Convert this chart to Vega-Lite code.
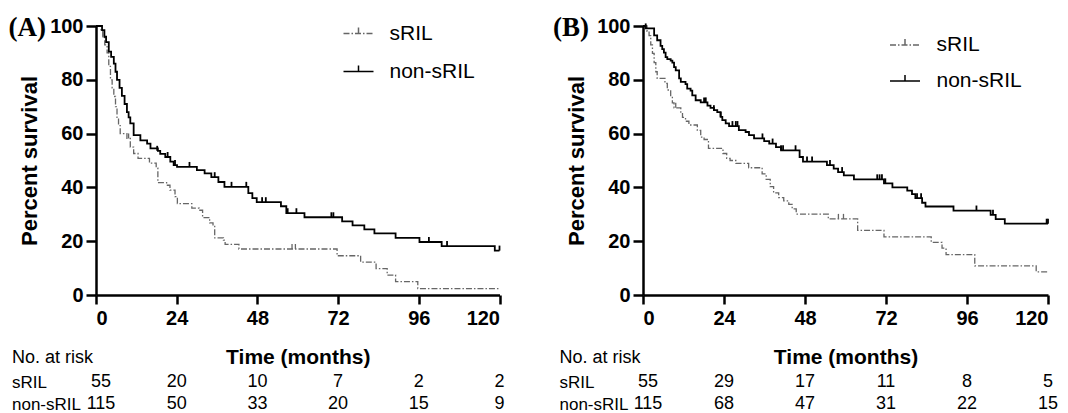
{
"$schema": "https://vega.github.io/schema/vega-lite/v6.json",
"padding": {"left": 8, "top": 13, "right": 0, "bottom": 0},
"datasets": {
"km": [
{"p":"A","g":"non-sRIL","t":0,"s":100},{"p":"A","g":"non-sRIL","t":1.8,"s":98.5},{"p":"A","g":"non-sRIL","t":2.5,"s":96},{"p":"A","g":"non-sRIL","t":3,"s":94},{"p":"A","g":"non-sRIL","t":3.8,"s":90.5},{"p":"A","g":"non-sRIL","t":4.5,"s":88.5},{"p":"A","g":"non-sRIL","t":5.3,"s":86},{"p":"A","g":"non-sRIL","t":5.8,"s":83},{"p":"A","g":"non-sRIL","t":6.25,"s":80},{"p":"A","g":"non-sRIL","t":7,"s":77},{"p":"A","g":"non-sRIL","t":7.7,"s":74},{"p":"A","g":"non-sRIL","t":8.5,"s":71},{"p":"A","g":"non-sRIL","t":9.2,"s":68},{"p":"A","g":"non-sRIL","t":9.7,"s":66},{"p":"A","g":"non-sRIL","t":10.2,"s":63.8},{"p":"A","g":"non-sRIL","t":11.2,"s":59.4},{"p":"A","g":"non-sRIL","t":13.2,"s":57.5},{"p":"A","g":"non-sRIL","t":15.2,"s":56.3},{"p":"A","g":"non-sRIL","t":16.2,"s":54.5},{"p":"A","g":"non-sRIL","t":18.4,"s":53.6},{"p":"A","g":"non-sRIL","t":19.1,"s":52.5},{"p":"A","g":"non-sRIL","t":20.6,"s":51.3},{"p":"A","g":"non-sRIL","t":22.1,"s":49.6},{"p":"A","g":"non-sRIL","t":23.1,"s":48.3},{"p":"A","g":"non-sRIL","t":24.1,"s":47.6},{"p":"A","g":"non-sRIL","t":30,"s":46.4},{"p":"A","g":"non-sRIL","t":32.3,"s":45.2},{"p":"A","g":"non-sRIL","t":34.3,"s":43.8},{"p":"A","g":"non-sRIL","t":36.4,"s":42},{"p":"A","g":"non-sRIL","t":38.2,"s":40.2},{"p":"A","g":"non-sRIL","t":45.3,"s":37.9},{"p":"A","g":"non-sRIL","t":46.5,"s":36},{"p":"A","g":"non-sRIL","t":47.8,"s":34.5},{"p":"A","g":"non-sRIL","t":55,"s":33},{"p":"A","g":"non-sRIL","t":56.6,"s":30.4},{"p":"A","g":"non-sRIL","t":62,"s":28.9},{"p":"A","g":"non-sRIL","t":73.2,"s":27.4},{"p":"A","g":"non-sRIL","t":76.3,"s":25.9},{"p":"A","g":"non-sRIL","t":79.8,"s":24.4},{"p":"A","g":"non-sRIL","t":82.8,"s":22.9},{"p":"A","g":"non-sRIL","t":89.1,"s":21.2},{"p":"A","g":"non-sRIL","t":96.2,"s":19.7},{"p":"A","g":"non-sRIL","t":102.8,"s":18.2},{"p":"A","g":"non-sRIL","t":118.6,"s":16.5},{"p":"A","g":"non-sRIL","t":120,"s":16.5},
{"p":"A","g":"sRIL","t":0,"s":100},{"p":"A","g":"sRIL","t":1.5,"s":98},{"p":"A","g":"sRIL","t":2,"s":96},{"p":"A","g":"sRIL","t":2.6,"s":93},{"p":"A","g":"sRIL","t":3.3,"s":90},{"p":"A","g":"sRIL","t":3.8,"s":85},{"p":"A","g":"sRIL","t":4.3,"s":80},{"p":"A","g":"sRIL","t":4.8,"s":77},{"p":"A","g":"sRIL","t":5.3,"s":73.8},{"p":"A","g":"sRIL","t":5.8,"s":70},{"p":"A","g":"sRIL","t":6.25,"s":66},{"p":"A","g":"sRIL","t":6.7,"s":63},{"p":"A","g":"sRIL","t":7.2,"s":60},{"p":"A","g":"sRIL","t":9.2,"s":58.2},{"p":"A","g":"sRIL","t":10.2,"s":55},{"p":"A","g":"sRIL","t":11.2,"s":52.6},{"p":"A","g":"sRIL","t":12.5,"s":50.8},{"p":"A","g":"sRIL","t":15.9,"s":49},{"p":"A","g":"sRIL","t":17.9,"s":47.2},{"p":"A","g":"sRIL","t":18.4,"s":41.8},{"p":"A","g":"sRIL","t":21,"s":40.8},{"p":"A","g":"sRIL","t":22,"s":39},{"p":"A","g":"sRIL","t":23.5,"s":36.6},{"p":"A","g":"sRIL","t":24.2,"s":34},{"p":"A","g":"sRIL","t":28.5,"s":32.3},{"p":"A","g":"sRIL","t":30.7,"s":31.5},{"p":"A","g":"sRIL","t":31.7,"s":28.8},{"p":"A","g":"sRIL","t":33.8,"s":26.8},{"p":"A","g":"sRIL","t":34.8,"s":25.5},{"p":"A","g":"sRIL","t":35.3,"s":21.2},{"p":"A","g":"sRIL","t":37.9,"s":20.4},{"p":"A","g":"sRIL","t":38.4,"s":18.8},{"p":"A","g":"sRIL","t":42.5,"s":17.1},{"p":"A","g":"sRIL","t":71.7,"s":14.6},{"p":"A","g":"sRIL","t":78.7,"s":12.2},{"p":"A","g":"sRIL","t":83.3,"s":9.8},{"p":"A","g":"sRIL","t":86.6,"s":7.4},{"p":"A","g":"sRIL","t":89.1,"s":5},{"p":"A","g":"sRIL","t":95.7,"s":2.4},{"p":"A","g":"sRIL","t":120,"s":2.4},
{"p":"B","g":"non-sRIL","t":0,"s":100},{"p":"B","g":"non-sRIL","t":0.8,"s":99.1},{"p":"B","g":"non-sRIL","t":3.3,"s":96.5},{"p":"B","g":"non-sRIL","t":4.2,"s":94.7},{"p":"B","g":"non-sRIL","t":5.2,"s":92.6},{"p":"B","g":"non-sRIL","t":5.7,"s":91.4},{"p":"B","g":"non-sRIL","t":6.2,"s":90.1},{"p":"B","g":"non-sRIL","t":6.7,"s":88.4},{"p":"B","g":"non-sRIL","t":7.2,"s":87.7},{"p":"B","g":"non-sRIL","t":8.2,"s":87.1},{"p":"B","g":"non-sRIL","t":8.7,"s":86.4},{"p":"B","g":"non-sRIL","t":9.2,"s":84.7},{"p":"B","g":"non-sRIL","t":9.7,"s":83.5},{"p":"B","g":"non-sRIL","t":10.7,"s":80.5},{"p":"B","g":"non-sRIL","t":11.2,"s":79.2},{"p":"B","g":"non-sRIL","t":12.6,"s":78.4},{"p":"B","g":"non-sRIL","t":13.1,"s":76.7},{"p":"B","g":"non-sRIL","t":14.1,"s":76},{"p":"B","g":"non-sRIL","t":14.6,"s":74.2},{"p":"B","g":"non-sRIL","t":15.6,"s":72.4},{"p":"B","g":"non-sRIL","t":17.1,"s":71.6},{"p":"B","g":"non-sRIL","t":19.1,"s":70.4},{"p":"B","g":"non-sRIL","t":20,"s":69.6},{"p":"B","g":"non-sRIL","t":21,"s":68.7},{"p":"B","g":"non-sRIL","t":22,"s":68},{"p":"B","g":"non-sRIL","t":23,"s":66.2},{"p":"B","g":"non-sRIL","t":23.5,"s":65},{"p":"B","g":"non-sRIL","t":24.5,"s":63.8},{"p":"B","g":"non-sRIL","t":25.5,"s":62.8},{"p":"B","g":"non-sRIL","t":28.4,"s":61.3},{"p":"B","g":"non-sRIL","t":30.4,"s":60.6},{"p":"B","g":"non-sRIL","t":31.4,"s":59.4},{"p":"B","g":"non-sRIL","t":32.9,"s":58.2},{"p":"B","g":"non-sRIL","t":35.9,"s":57.2},{"p":"B","g":"non-sRIL","t":37.4,"s":56.3},{"p":"B","g":"non-sRIL","t":39.4,"s":55},{"p":"B","g":"non-sRIL","t":40.9,"s":53.8},{"p":"B","g":"non-sRIL","t":46.4,"s":51.3},{"p":"B","g":"non-sRIL","t":47.4,"s":49.6},{"p":"B","g":"non-sRIL","t":54.5,"s":48.3},{"p":"B","g":"non-sRIL","t":56.5,"s":47},{"p":"B","g":"non-sRIL","t":57.8,"s":45.7},{"p":"B","g":"non-sRIL","t":59.5,"s":44.5},{"p":"B","g":"non-sRIL","t":62.5,"s":43},{"p":"B","g":"non-sRIL","t":71.4,"s":41.5},{"p":"B","g":"non-sRIL","t":73.9,"s":40},{"p":"B","g":"non-sRIL","t":78.3,"s":38.8},{"p":"B","g":"non-sRIL","t":79.7,"s":37.5},{"p":"B","g":"non-sRIL","t":80.7,"s":36},{"p":"B","g":"non-sRIL","t":82.7,"s":34.3},{"p":"B","g":"non-sRIL","t":83.7,"s":32.9},{"p":"B","g":"non-sRIL","t":92,"s":31.4},{"p":"B","g":"non-sRIL","t":103,"s":29.8},{"p":"B","g":"non-sRIL","t":104.5,"s":28.2},{"p":"B","g":"non-sRIL","t":107.2,"s":26.5},{"p":"B","g":"non-sRIL","t":120,"s":26.5},
{"p":"B","g":"sRIL","t":0,"s":100},{"p":"B","g":"sRIL","t":1.2,"s":98},{"p":"B","g":"sRIL","t":1.8,"s":96.4},{"p":"B","g":"sRIL","t":2.3,"s":93},{"p":"B","g":"sRIL","t":2.8,"s":89.8},{"p":"B","g":"sRIL","t":3.3,"s":86.4},{"p":"B","g":"sRIL","t":3.8,"s":83},{"p":"B","g":"sRIL","t":4.2,"s":80.5},{"p":"B","g":"sRIL","t":6.5,"s":78.7},{"p":"B","g":"sRIL","t":7.2,"s":76.2},{"p":"B","g":"sRIL","t":8.2,"s":73.8},{"p":"B","g":"sRIL","t":8.7,"s":71.4},{"p":"B","g":"sRIL","t":9.2,"s":69.6},{"p":"B","g":"sRIL","t":11.2,"s":68},{"p":"B","g":"sRIL","t":11.7,"s":66},{"p":"B","g":"sRIL","t":12.6,"s":64.6},{"p":"B","g":"sRIL","t":13.6,"s":63.2},{"p":"B","g":"sRIL","t":16.1,"s":61.2},{"p":"B","g":"sRIL","t":17.1,"s":58.7},{"p":"B","g":"sRIL","t":18.1,"s":57.8},{"p":"B","g":"sRIL","t":19.4,"s":54.5},{"p":"B","g":"sRIL","t":23.7,"s":52.6},{"p":"B","g":"sRIL","t":24.8,"s":50.8},{"p":"B","g":"sRIL","t":25.8,"s":50},{"p":"B","g":"sRIL","t":27.5,"s":48.9},{"p":"B","g":"sRIL","t":31.3,"s":47.3},{"p":"B","g":"sRIL","t":35.3,"s":45},{"p":"B","g":"sRIL","t":36.5,"s":43},{"p":"B","g":"sRIL","t":37.7,"s":40.3},{"p":"B","g":"sRIL","t":38.7,"s":38},{"p":"B","g":"sRIL","t":40.2,"s":36.2},{"p":"B","g":"sRIL","t":41.7,"s":35},{"p":"B","g":"sRIL","t":43.2,"s":33.7},{"p":"B","g":"sRIL","t":44.2,"s":32},{"p":"B","g":"sRIL","t":45.4,"s":30.1},{"p":"B","g":"sRIL","t":54.9,"s":28.3},{"p":"B","g":"sRIL","t":63.6,"s":24},{"p":"B","g":"sRIL","t":71.4,"s":21.6},{"p":"B","g":"sRIL","t":85.4,"s":19.6},{"p":"B","g":"sRIL","t":88.6,"s":17.4},{"p":"B","g":"sRIL","t":89.8,"s":15},{"p":"B","g":"sRIL","t":98.3,"s":10.8},{"p":"B","g":"sRIL","t":116.5,"s":8.6},{"p":"B","g":"sRIL","t":120,"s":8.6}
],
"cens": [
{"p":"A","g":"non-sRIL","t":18.2,"s":53.6},{"p":"A","g":"non-sRIL","t":21.3,"s":51.3},{"p":"A","g":"non-sRIL","t":23.5,"s":48.3},{"p":"A","g":"non-sRIL","t":27.8,"s":47.6},{"p":"A","g":"non-sRIL","t":35.3,"s":43.8},{"p":"A","g":"non-sRIL","t":40.3,"s":40.2},{"p":"A","g":"non-sRIL","t":44.7,"s":40.2},{"p":"A","g":"non-sRIL","t":49.4,"s":34.5},{"p":"A","g":"non-sRIL","t":50.5,"s":34.5},{"p":"A","g":"non-sRIL","t":57,"s":30.4},{"p":"A","g":"non-sRIL","t":59.6,"s":30.4},{"p":"A","g":"non-sRIL","t":70,"s":28.9},{"p":"A","g":"non-sRIL","t":70.6,"s":28.9},{"p":"A","g":"non-sRIL","t":99,"s":19.7},{"p":"A","g":"non-sRIL","t":104.4,"s":18.2},{"p":"A","g":"non-sRIL","t":120,"s":16.5},
{"p":"A","g":"sRIL","t":9.7,"s":58.2},{"p":"A","g":"sRIL","t":58.3,"s":17.1},{"p":"A","g":"sRIL","t":59.3,"s":17.1},
{"p":"B","g":"non-sRIL","t":0.8,"s":99.1},{"p":"B","g":"non-sRIL","t":18.1,"s":71.6},{"p":"B","g":"non-sRIL","t":18.6,"s":71.6},{"p":"B","g":"non-sRIL","t":21,"s":68.7},{"p":"B","g":"non-sRIL","t":23,"s":66.2},{"p":"B","g":"non-sRIL","t":26.5,"s":62.8},{"p":"B","g":"non-sRIL","t":27.5,"s":62.8},{"p":"B","g":"non-sRIL","t":28,"s":62.8},{"p":"B","g":"non-sRIL","t":35.4,"s":58.2},{"p":"B","g":"non-sRIL","t":38.4,"s":56.3},{"p":"B","g":"non-sRIL","t":40.9,"s":53.8},{"p":"B","g":"non-sRIL","t":41.5,"s":53.8},{"p":"B","g":"non-sRIL","t":45.2,"s":53.8},{"p":"B","g":"non-sRIL","t":48.6,"s":49.6},{"p":"B","g":"non-sRIL","t":50.1,"s":49.6},{"p":"B","g":"non-sRIL","t":55.4,"s":48.3},{"p":"B","g":"non-sRIL","t":59,"s":45.7},{"p":"B","g":"non-sRIL","t":69.4,"s":43},{"p":"B","g":"non-sRIL","t":70.1,"s":43},{"p":"B","g":"non-sRIL","t":70.8,"s":43},{"p":"B","g":"non-sRIL","t":71.8,"s":41.5},{"p":"B","g":"non-sRIL","t":81.2,"s":36},{"p":"B","g":"non-sRIL","t":82.4,"s":36},{"p":"B","g":"non-sRIL","t":98.8,"s":31.4},{"p":"B","g":"non-sRIL","t":103.7,"s":29.8},{"p":"B","g":"non-sRIL","t":119.6,"s":26.5},{"p":"B","g":"non-sRIL","t":120,"s":26.5},
{"p":"B","g":"sRIL","t":9.7,"s":69.6},{"p":"B","g":"sRIL","t":57.9,"s":28.3},{"p":"B","g":"sRIL","t":59.4,"s":28.3}
],
"risk": [
{"p":"A","g":"sRIL","t":0,"n":"55"},{"p":"A","g":"sRIL","t":24,"n":"20"},{"p":"A","g":"sRIL","t":48,"n":"10"},{"p":"A","g":"sRIL","t":72,"n":"7"},{"p":"A","g":"sRIL","t":96,"n":"2"},{"p":"A","g":"sRIL","t":120,"n":"2"},
{"p":"A","g":"non-sRIL","t":0,"n":"115"},{"p":"A","g":"non-sRIL","t":24,"n":"50"},{"p":"A","g":"non-sRIL","t":48,"n":"33"},{"p":"A","g":"non-sRIL","t":72,"n":"20"},{"p":"A","g":"non-sRIL","t":96,"n":"15"},{"p":"A","g":"non-sRIL","t":120,"n":"9"},
{"p":"B","g":"sRIL","t":0,"n":"55"},{"p":"B","g":"sRIL","t":24,"n":"29"},{"p":"B","g":"sRIL","t":48,"n":"17"},{"p":"B","g":"sRIL","t":72,"n":"11"},{"p":"B","g":"sRIL","t":96,"n":"8"},{"p":"B","g":"sRIL","t":120,"n":"5"},
{"p":"B","g":"non-sRIL","t":0,"n":"115"},{"p":"B","g":"non-sRIL","t":24,"n":"68"},{"p":"B","g":"non-sRIL","t":48,"n":"47"},{"p":"B","g":"non-sRIL","t":72,"n":"31"},{"p":"B","g":"non-sRIL","t":96,"n":"22"},{"p":"B","g":"non-sRIL","t":120,"n":"15"}
],
"lab": [{"p":"A","lab":"(A)","t":0,"s":100},{"p":"B","lab":"(B)","t":0,"s":100}]
},
"columns": 2,
"spacing": {"row": 87, "column": 143},
"bounds": "flush",
"resolve": {"scale": {"x": "independent", "y": "independent", "color": "independent", "strokeDash": "independent"}, "legend": {"color": "independent", "strokeDash": "independent"}},
"concat": [
{
 "width": 403.5, "height": 269,
 "layer": [
  {"data": {"name": "km"}, "transform": [{"filter": "datum.p == 'A' && datum.g == 'sRIL'"}],
   "mark": {"type": "line", "interpolate": "step-after", "strokeWidth": 1.3},
   "encoding": {
    "x": {"field": "t", "type": "quantitative", "title": null, "scale": {"domain": [0, 120], "nice": false}, "axis": {"values": [0,24,48,72,96,120], "tickSize": 9, "labelPadding": 4}},
    "y": {"field": "s", "type": "quantitative", "title": "Percent survival", "scale": {"domain": [0, 100], "nice": false}, "axis": {"values": [0,20,40,60,80,100], "tickSize": 10, "labelPadding": 3, "titlePadding": 8}},
    "color": {"field": "g", "type": "nominal", "scale": {"domain": ["sRIL", "non-sRIL"], "range": ["#666666", "#000000"]}, "legend": {"title": null, "orient": "none", "legendX": 246.5, "legendY": -8.5, "symbolType": "M-1,0H1M0,0V-0.4", "symbolSize": 900, "symbolStrokeWidth": 1.5, "labelOffset": 15, "rowPadding": 12, "padding": 0}},
    "strokeDash": {"field": "g", "type": "nominal", "scale": {"domain": ["sRIL", "non-sRIL"], "range": [[6,2,1.5,2],[1,0]]}, "legend": {"title": null, "orient": "none", "legendX": 246.5, "legendY": -8.5, "symbolType": "M-1,0H1M0,0V-0.4", "symbolSize": 900, "symbolStrokeWidth": 1.5, "labelOffset": 15, "rowPadding": 12, "padding": 0}}
   }},
  {"data": {"name": "km"}, "transform": [{"filter": "datum.p == 'A' && datum.g == 'non-sRIL'"}],
   "mark": {"type": "line", "interpolate": "step-after", "strokeWidth": 1.8},
   "encoding": {
    "x": {"field": "t", "type": "quantitative", "title": null},
    "y": {"field": "s", "type": "quantitative", "title": "Percent survival"},
    "color": {"field": "g", "type": "nominal"},
    "strokeDash": {"field": "g", "type": "nominal"}
   }},
  {"data": {"name": "cens"}, "transform": [{"filter": "datum.p == 'A' && datum.g == 'sRIL'"}],
   "mark": {"type": "point", "shape": "M0,0V-1", "size": 100, "filled": false, "strokeWidth": 1.3, "color": "#666666", "opacity": 1},
   "encoding": {"x": {"field": "t", "type": "quantitative", "title": null}, "y": {"field": "s", "type": "quantitative", "title": "Percent survival"}}},
  {"data": {"name": "cens"}, "transform": [{"filter": "datum.p == 'A' && datum.g == 'non-sRIL'"}],
   "mark": {"type": "point", "shape": "M0,0V-1", "size": 100, "filled": false, "strokeWidth": 1.8, "color": "#000000", "opacity": 1},
   "encoding": {"x": {"field": "t", "type": "quantitative", "title": null}, "y": {"field": "s", "type": "quantitative", "title": "Percent survival"}}},
  {"data": {"name": "lab"}, "transform": [{"filter": "datum.p == 'A'"}],
   "mark": {"type": "text", "font": "Liberation Serif", "fontSize": 27, "fontWeight": "bold", "align": "right", "baseline": "middle", "dx": -50, "dy": 1.5, "color": "#000000"},
   "encoding": {"x": {"field": "t", "type": "quantitative", "title": null}, "y": {"field": "s", "type": "quantitative", "title": "Percent survival"}, "text": {"field": "lab", "type": "nominal"}}}
 ]
},
{
 "width": 405, "height": 269,
 "layer": [
  {"data": {"name": "km"}, "transform": [{"filter": "datum.p == 'B' && datum.g == 'sRIL'"}],
   "mark": {"type": "line", "interpolate": "step-after", "strokeWidth": 1.3},
   "encoding": {
    "x": {"field": "t", "type": "quantitative", "title": null, "scale": {"domain": [0, 120], "nice": false}, "axis": {"values": [0,24,48,72,96,120], "tickSize": 9, "labelPadding": 4}},
    "y": {"field": "s", "type": "quantitative", "title": "Percent survival", "scale": {"domain": [0, 100], "nice": false}, "axis": {"values": [0,20,40,60,80,100], "tickSize": 10, "labelPadding": 3, "titlePadding": 8}},
    "color": {"field": "g", "type": "nominal", "scale": {"domain": ["sRIL", "non-sRIL"], "range": ["#666666", "#000000"]}, "legend": {"title": null, "orient": "none", "legendX": 246, "legendY": 3, "symbolType": "M-1,0H1M0,0V-0.4", "symbolSize": 900, "symbolStrokeWidth": 1.5, "labelOffset": 15.5, "rowPadding": 10, "padding": 0}},
    "strokeDash": {"field": "g", "type": "nominal", "scale": {"domain": ["sRIL", "non-sRIL"], "range": [[6,2,1.5,2],[1,0]]}, "legend": {"title": null, "orient": "none", "legendX": 246, "legendY": 3, "symbolType": "M-1,0H1M0,0V-0.4", "symbolSize": 900, "symbolStrokeWidth": 1.5, "labelOffset": 15.5, "rowPadding": 10, "padding": 0}}
   }},
  {"data": {"name": "km"}, "transform": [{"filter": "datum.p == 'B' && datum.g == 'non-sRIL'"}],
   "mark": {"type": "line", "interpolate": "step-after", "strokeWidth": 1.8},
   "encoding": {
    "x": {"field": "t", "type": "quantitative", "title": null},
    "y": {"field": "s", "type": "quantitative", "title": "Percent survival"},
    "color": {"field": "g", "type": "nominal"},
    "strokeDash": {"field": "g", "type": "nominal"}
   }},
  {"data": {"name": "cens"}, "transform": [{"filter": "datum.p == 'B' && datum.g == 'sRIL'"}],
   "mark": {"type": "point", "shape": "M0,0V-1", "size": 100, "filled": false, "strokeWidth": 1.3, "color": "#666666", "opacity": 1},
   "encoding": {"x": {"field": "t", "type": "quantitative", "title": null}, "y": {"field": "s", "type": "quantitative", "title": "Percent survival"}}},
  {"data": {"name": "cens"}, "transform": [{"filter": "datum.p == 'B' && datum.g == 'non-sRIL'"}],
   "mark": {"type": "point", "shape": "M0,0V-1", "size": 100, "filled": false, "strokeWidth": 1.8, "color": "#000000", "opacity": 1},
   "encoding": {"x": {"field": "t", "type": "quantitative", "title": null}, "y": {"field": "s", "type": "quantitative", "title": "Percent survival"}}},
  {"data": {"name": "lab"}, "transform": [{"filter": "datum.p == 'B'"}],
   "mark": {"type": "text", "font": "Liberation Serif", "fontSize": 27, "fontWeight": "bold", "align": "right", "baseline": "middle", "dx": -54, "dy": 1.5, "color": "#000000"},
   "encoding": {"x": {"field": "t", "type": "quantitative", "title": null}, "y": {"field": "s", "type": "quantitative", "title": "Percent survival"}, "text": {"field": "lab", "type": "nominal"}}}
 ]
},
{
 "width": 403.5, "height": 22,
 "data": {"name": "risk"}, "transform": [{"filter": "datum.p == 'A'"}],
 "encoding": {
  "x": {"field": "t", "type": "quantitative", "scale": {"domain": [0, 120], "nice": false}, "axis": {"orient": "top", "labels": false, "ticks": false, "tickSize": 0, "domain": false, "title": "Time (months)", "titleFontSize": 21, "titleFontWeight": "bold", "titleY": -25, "titleBaseline": "middle"}},
  "y": {"field": "g", "type": "nominal", "scale": {"type": "point", "domain": ["sRIL", "non-sRIL"], "padding": 0}, "axis": {"orient": "left", "ticks": false, "tickSize": 0, "domain": false, "labelAlign": "left", "labelPadding": 84.5, "labelFontSize": 17, "labelFontWeight": "normal", "title": "No. at risk", "titleAngle": 0, "titleAlign": "left", "titleBaseline": "middle", "titleX": -84.5, "titleY": -25, "titleFontSize": 18, "titleFontWeight": "normal"}},
  "text": {"field": "n", "type": "nominal"}
 },
 "layer": [
  {"transform": [{"filter": "datum.t > 0"}], "mark": {"type": "text", "fontSize": 18, "font": "Liberation Sans", "baseline": "middle", "color": "#000000"}},
  {"transform": [{"filter": "datum.t == 0"}], "mark": {"type": "text", "fontSize": 18, "font": "Liberation Sans", "baseline": "middle", "color": "#000000", "dx": 5}}
 ]
},
{
 "width": 405, "height": 22,
 "data": {"name": "risk"}, "transform": [{"filter": "datum.p == 'B'"}],
 "encoding": {
  "x": {"field": "t", "type": "quantitative", "scale": {"domain": [0, 120], "nice": false}, "axis": {"orient": "top", "labels": false, "ticks": false, "tickSize": 0, "domain": false, "title": "Time (months)", "titleFontSize": 21, "titleFontWeight": "bold", "titleY": -25, "titleBaseline": "middle"}},
  "y": {"field": "g", "type": "nominal", "scale": {"type": "point", "domain": ["sRIL", "non-sRIL"], "padding": 0}, "axis": {"orient": "left", "ticks": false, "tickSize": 0, "domain": false, "labelAlign": "left", "labelPadding": 84, "labelFontSize": 17, "labelFontWeight": "normal", "title": "No. at risk", "titleAngle": 0, "titleAlign": "left", "titleBaseline": "middle", "titleX": -84, "titleY": -25, "titleFontSize": 18, "titleFontWeight": "normal"}},
  "text": {"field": "n", "type": "nominal"}
 },
 "layer": [
  {"transform": [{"filter": "datum.t > 0"}], "mark": {"type": "text", "fontSize": 18, "font": "Liberation Sans", "baseline": "middle", "color": "#000000"}},
  {"transform": [{"filter": "datum.t == 0"}], "mark": {"type": "text", "fontSize": 18, "font": "Liberation Sans", "baseline": "middle", "color": "#000000", "dx": 5}}
 ]
}
],
"config": {
 "view": {"stroke": null},
 "axis": {"grid": false, "labelFont": "Liberation Sans", "titleFont": "Liberation Sans", "labelColor": "#000000", "titleColor": "#000000", "domainColor": "#000000", "tickColor": "#000000", "domainWidth": 2.5, "tickWidth": 2.5, "labelFontSize": 20, "labelFontWeight": "bold", "titleFontSize": 22, "titleFontWeight": "bold"},
 "legend": {"labelFont": "Liberation Sans", "labelFontSize": 21, "labelColor": "#000000"}
}
}
